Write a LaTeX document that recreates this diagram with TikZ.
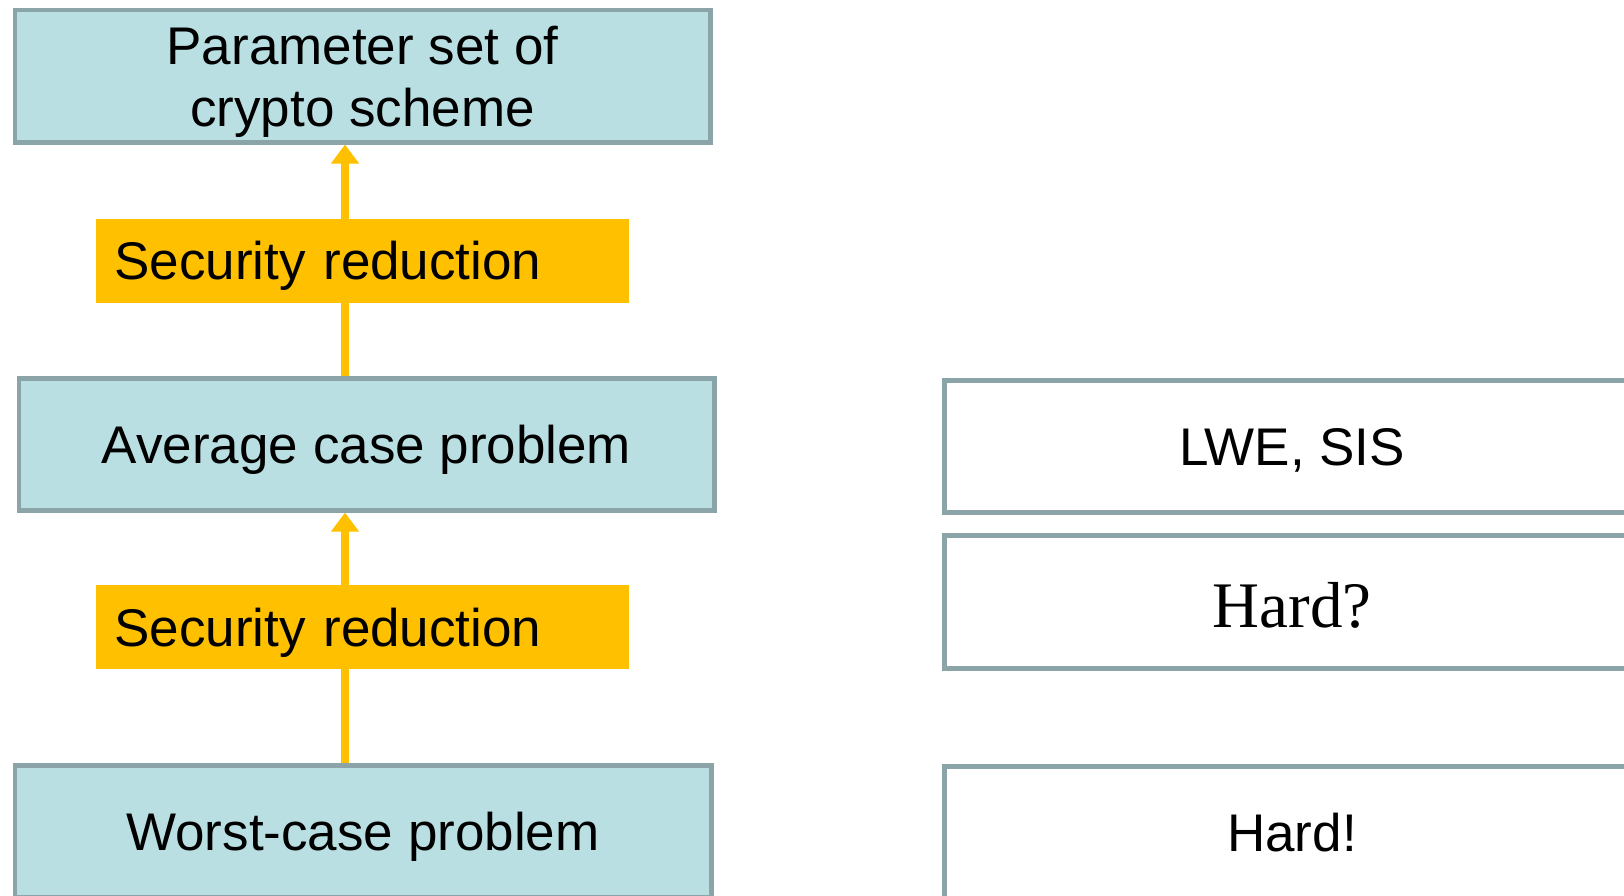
\documentclass[tikz,border=0pt]{standalone}
\usepackage{fontspec}
\setmainfont{Liberation Sans}
\newfontfamily\hardserif{Liberation Serif}
\usetikzlibrary{arrows.meta}
\definecolor{boxfill}{RGB}{185,223,226}
\definecolor{boxline}{RGB}{138,164,168}
\definecolor{redfill}{RGB}{255,192,0}
\tikzset{
  level/.style={draw=boxline, line width=4.6pt, fill=boxfill, inner sep=0pt,
    minimum width=695.4pt, minimum height=132.1pt,
    font=\fontsize{53}{62}\selectfont, text height=38pt, text depth=0pt},
  claim/.style={level, fill=white},
  reduction/.style={fill=redfill, inner sep=0pt, inner xsep=18pt,
    minimum height=84pt, text width=496.4pt, align=left,
    font=\fontsize{53}{62}\selectfont, text height=38pt, text depth=0pt},
  uparrow/.style={draw=redfill, line width=7.5pt,
    -{Triangle[length=19pt,width=27pt]}},
}
\begin{document}
\begin{tikzpicture}[x=1pt,y=-1pt]
  \clip (0,0) rectangle (1624,896);
  \fill[white] (0,0) rectangle (1624,896);

  % the three levels of the security argument
  \node[level, align=center, text height=100pt] (scheme) at (362.5,76.2)
    {Parameter set of\\crypto scheme};
  \node[level] (avg) at (366.6,444.3) {Average case problem};
  \node[level, minimum width=696.4pt] (worst) at (363,831.5) {Worst-case problem};

  % what each level stands for
  \node[claim] (lwe) at (1292,446.3) {LWE, SIS};
  \node[claim, minimum height=133pt, font=\hardserif\fontsize{65}{70}\selectfont,
    text height=50pt] (hardq) at (1292,602.2) {Hard?};
  \node[claim] (harde) at (1292,832.5) {Hard!};

  % reductions between levels
  \coordinate (spine) at (345,0);
  \draw[uparrow] (avg.north -| spine) -- (scheme.south -| spine);
  \draw[uparrow] (worst.north -| spine) -- (avg.south -| spine);

  \node[reduction] (red1) at (362.5,260.5) {Security reduction};
  \node[reduction] (red2) at (362.5,627) {Security reduction};
\end{tikzpicture}
\end{document}
